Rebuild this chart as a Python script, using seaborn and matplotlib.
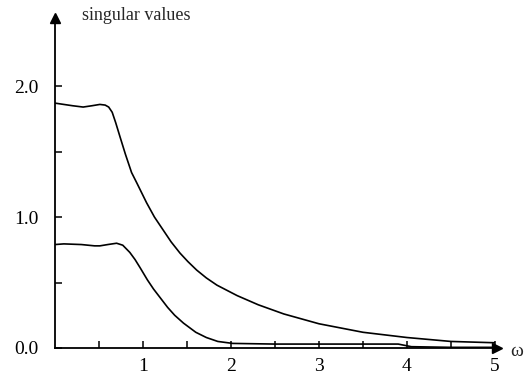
import matplotlib
matplotlib.use("Agg")
import matplotlib.pyplot as plt
import seaborn as sns
import pandas as pd

# Data
omega_upper = [0.0, 0.1, 0.2, 0.32, 0.42, 0.51, 0.57, 0.61, 0.65, 0.69, 0.74, 0.80, 0.87,
               0.93, 1.04, 1.13, 1.23, 1.32, 1.42, 1.51, 1.61, 1.72, 1.84, 2.07, 2.31,
               2.6, 3.0, 3.5, 4.0, 4.5, 5.0]
sv_upper = [1.87, 1.86, 1.85, 1.84, 1.85, 1.86, 1.855, 1.84, 1.80, 1.72, 1.61, 1.48, 1.34,
            1.26, 1.11, 1.00, 0.90, 0.81, 0.725, 0.66, 0.595, 0.535, 0.48, 0.40, 0.33,
            0.26, 0.185, 0.12, 0.08, 0.05, 0.04]

omega_lower = [0.0, 0.1, 0.3, 0.45, 0.51, 0.60, 0.70, 0.77, 0.85, 0.91, 0.97, 1.05,
               1.12, 1.20, 1.28, 1.36, 1.46, 1.60, 1.72, 1.85, 2.02, 2.5, 3.0, 3.5,
               3.9, 4.05, 4.5, 5.0]
sv_lower = [0.79, 0.795, 0.79, 0.78, 0.78, 0.79, 0.80, 0.785, 0.73, 0.675, 0.61, 0.52,
            0.45, 0.38, 0.31, 0.25, 0.19, 0.12, 0.08, 0.05, 0.035, 0.03, 0.03, 0.03,
            0.03, 0.01, 0.005, 0.005]

x_ticks = [1, 2, 3, 4, 5]
x_minor = [0.5, 1.5, 2.5, 3.5, 4.5]
y_ticks = [0.0, 1.0, 2.0]
y_tick_labels = ["0.0", "1.0", "2.0"]
y_minor = [0.5, 1.5]

df = pd.concat([
    pd.DataFrame({"omega": omega_upper, "sv": sv_upper, "curve": "upper"}),
    pd.DataFrame({"omega": omega_lower, "sv": sv_lower, "curve": "lower"}),
])

sns.set_theme(style="ticks")
plt.rcParams["font.family"] = ["Liberation Serif", "DejaVu Serif"]

fig = plt.figure(figsize=(5.28, 3.79), dpi=100)
ax = fig.add_axes([55 / 528, 31 / 379, 440 / 528, 330 / 379])

sns.lineplot(data=df, x="omega", y="sv", units="curve", estimator=None,
             color="black", linewidth=1.2, sort=False, ax=ax, legend=False)

ax.set_xlim(0, 5)
ax.set_ylim(0, 2.52)
ax.spines["top"].set_visible(False)
ax.spines["right"].set_visible(False)
for s in ("left", "bottom"):
    ax.spines[s].set_linewidth(1.3)
    ax.spines[s].set_color("black")

ax.set_xticks(x_ticks)
ax.set_xticks(x_minor, minor=True)
ax.set_yticks(y_ticks)
ax.set_yticklabels(y_tick_labels)
ax.set_yticks(y_minor, minor=True)
ax.tick_params(which="both", direction="in", length=5, width=1.1, color="black",
               labelsize=14, labelcolor="black")
ax.tick_params(axis="y", pad=12)
ax.tick_params(axis="x", pad=7)
ax.set_xlabel("")
ax.set_ylabel("")

# axis arrows
ax.plot(1.005, 0, marker=">", color="black", markersize=7, transform=ax.transAxes, clip_on=False)
ax.plot(0, 1.0, marker="^", color="black", markersize=7, transform=ax.transAxes, clip_on=False)

fig.text(82 / 528, 1 - 16 / 379, "singular values", fontsize=13, ha="left", va="center")
fig.text(517 / 528, 1 - 352 / 379, "ω", fontsize=14, ha="center", va="center")

fig.savefig("out.png", dpi=100)
